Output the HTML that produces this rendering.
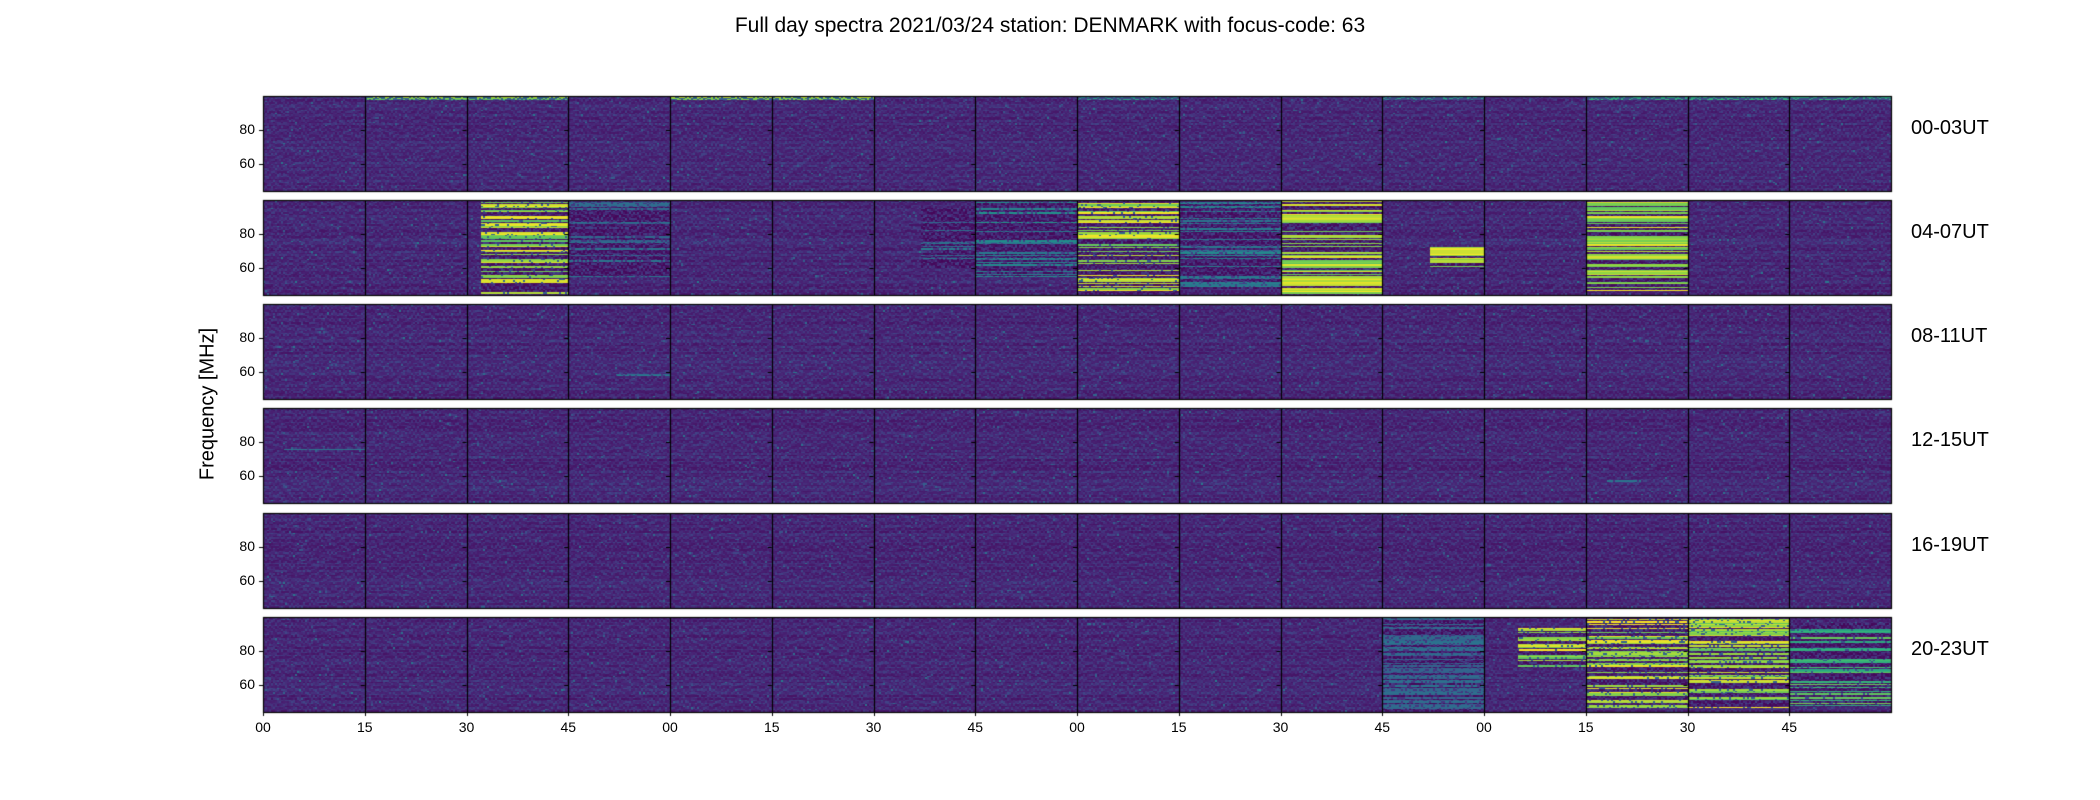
<!DOCTYPE html>
<html><head><meta charset="utf-8"><style>
html,body{margin:0;padding:0;background:#fff;}
#wrap{position:relative;width:2100px;height:800px;overflow:hidden;font-family:"Liberation Sans","DejaVu Sans",sans-serif;color:#000;}
.t{position:absolute;white-space:nowrap;}
canvas{position:absolute;left:0;top:0;}
</style></head><body>
<div id="wrap">
<canvas id="cv" width="2100" height="800"></canvas>
<div class="t" style="left:0;width:2100px;text-align:center;top:14px;font-size:21px;">Full day spectra 2021/03/24 station: DENMARK with focus-code: 63</div>
<div class="t" style="left:208px;top:404px;font-size:20px;transform:translate(-50%,-50%) rotate(-90deg);">Frequency [MHz]</div>
<div id="labels"></div>
</div>
<script>
// ---- data ----
const rowLabels = ["00-03UT","04-07UT","08-11UT","12-15UT","16-19UT","20-23UT"];
const xTickLabels = ["00","15","30","45","00","15","30","45","00","15","30","45","00","15","30","45"];
const yTicks = [80, 60];
const freqRange = [44.6, 99.4];
const minutesPerRow = 240;
// events: row, start minute, end minute, fmin, fmax, level, density, dotting
const evRow   = [0,0,0,0,0, 1,1,1,1,1,1,1,1,1, 2, 3,3, 5,5,5,5,5];
const evStart = [15,60,120,165,195, 32,45,97,105,120,135,150,172,195, 52, 3,198, 165,185,195,210,225];
const evEnd   = [45,90,135,180,240, 45,60,105,120,135,150,165,180,210, 60, 15,203, 180,195,210,225,240];
const evFmin  = [97,97,97,97,97, 45,55,60,55,45,48,45,60,47, 58, 75,57, 45,70,47,47,48];
const evFmax  = [99,99,99,99,99, 100,98,95,98,100,98,99,72,98, 59, 76,58, 99,93,99,98,96];
const evLevel = [1,1,0.7,0.7,0.8, 1,0.5,0.55,0.65,1,0.6,1,1,1, 0.55, 0.6,0.5, 0.5,1,1,1,0.85];
const evDens  = [1,1,1,1,1, 0.5,0.3,0.15,0.35,0.45,0.35,0.7,0.6,0.65, 1, 1,1, 0.55,0.4,0.55,0.5,0.4];
const evDot   = [0.5,0.5,0.3,0.3,0.4, 0.9,0.7,0.7,0.8,0.9,0.8,1,1,1, 0.8, 0.9,0.9, 0.8,0.9,0.85,0.85,0.9];

// ---- layout ----
const L=263, R=1891, rowTop=[96,200,304,408,513,617], H=95;
const W=R-L;
const xOf = m => L + m*W/minutesPerRow;
const yOf = (r,f) => rowTop[r] + (freqRange[1]-f)/(freqRange[1]-freqRange[0])*H;

function hash(a,b,c){let h=(a*374761393+b*668265263+c*2147483647)|0;h=(h^(h>>>13))*1274126177|0;h^=h>>>16;return (h>>>0)/4294967296;}
const vs=[[0,68,1,84],[0.13,72,36,117],[0.25,65,68,135],[0.38,53,95,141],[0.5,42,120,142],[0.63,33,145,140],[0.75,53,183,121],[0.88,144,215,67],[1,253,231,37]];
function vir(v){v=Math.max(0,Math.min(1,v));for(let i=1;i<vs.length;i++){if(v<=vs[i][0]){const a=vs[i-1],b=vs[i],t=(v-a[0])/(b[0]-a[0]);return [a[1]+(b[1]-a[1])*t,a[2]+(b[2]-a[2])*t,a[3]+(b[3]-a[3])*t];}}return [253,231,37];}

const cv=document.getElementById('cv'),ctx=cv.getContext('2d');
const img=ctx.createImageData(W,H);
for(let r=0;r<6;r++){
  const d=img.data;
  for(let y=0;y<H;y++){
    const f=freqRange[1]-(y+0.5)/H*(freqRange[1]-freqRange[0]);
    const fl=Math.floor(y/1.5);
    const lineOff=hash(r,fl,7)*0.07;
    for(let x=0;x<W;x++){
      const m=x/W*minutesPerRow, cx=Math.floor(x/2);
      let n=hash(r*9+1,cx,fl);
      let v=0.06+lineOff+0.16*n*n;
      if(hash(r,cx,fl*3+1)>0.985) v+=0.25;
      for(let e=0;e<evRow.length;e++){
        if(evRow[e]!==r||m<evStart[e]||m>=evEnd[e]||f<evFmin[e]||f>evFmax[e])continue;
        const lid=Math.floor(f*1.3);
        if(hash(e,lid,3)<evDens[e]){
          if(hash(e,cx,lid)<evDot[e]) v=evLevel[e]*(0.8+0.2*hash(e,lid,9));
          else v=evLevel[e]*0.4;
        } else if(evDens[e]<1) v=Math.min(v,0.02+0.3*n*n);
      }
      const c=vir(v),i=(y*W+x)*4;
      d[i]=c[0];d[i+1]=c[1];d[i+2]=c[2];d[i+3]=255;
    }
  }
  ctx.putImageData(img,L,rowTop[r]);
  ctx.strokeStyle='#000';ctx.lineWidth=1.2;
  ctx.strokeRect(L+0.5,rowTop[r]+0.5,W,H);
  for(let k=1;k<16;k++){const x=Math.round(xOf(k*15))+0.5;ctx.beginPath();ctx.moveTo(x,rowTop[r]);ctx.lineTo(x,rowTop[r]+H);ctx.stroke();}
  ctx.lineWidth=1;
  yTicks.forEach(t=>{const y=Math.round(yOf(r,t))+0.5;ctx.beginPath();ctx.moveTo(L-4,y);ctx.lineTo(L,y);ctx.stroke();
    for(let k=1;k<16;k++){const x=xOf(k*15);ctx.beginPath();ctx.moveTo(x-4,y);ctx.lineTo(x,y);ctx.stroke();}});
}
ctx.strokeStyle='#000';
for(let k=0;k<16;k++){const x=Math.round(xOf(k*15))+0.5;ctx.beginPath();ctx.moveTo(x,rowTop[5]+H);ctx.lineTo(x,rowTop[5]+H+4);ctx.stroke();}

const lab=document.getElementById('labels');
function addT(txt,style,name){const el=document.createElement('div');el.className='t';el.textContent=txt;el.setAttribute('style',style);


lab.appendChild(el);}
rowLabels.forEach((s,r)=>{
  addT(s,`left:1911px;top:${rowTop[r]+21}px;font-size:20px;`,'row-label');
  yTicks.forEach(t=>addT(String(t),`left:${L-40}px;width:32px;text-align:right;top:${yOf(r,t)-9}px;font-size:14px;`,'y-tick-label'));
});
xTickLabels.forEach((s,k)=>addT(s,`left:${xOf(k*15)-20}px;width:40px;text-align:center;top:${rowTop[5]+H+7}px;font-size:14px;`,'x-tick-label'));
</script>
</body></html>
